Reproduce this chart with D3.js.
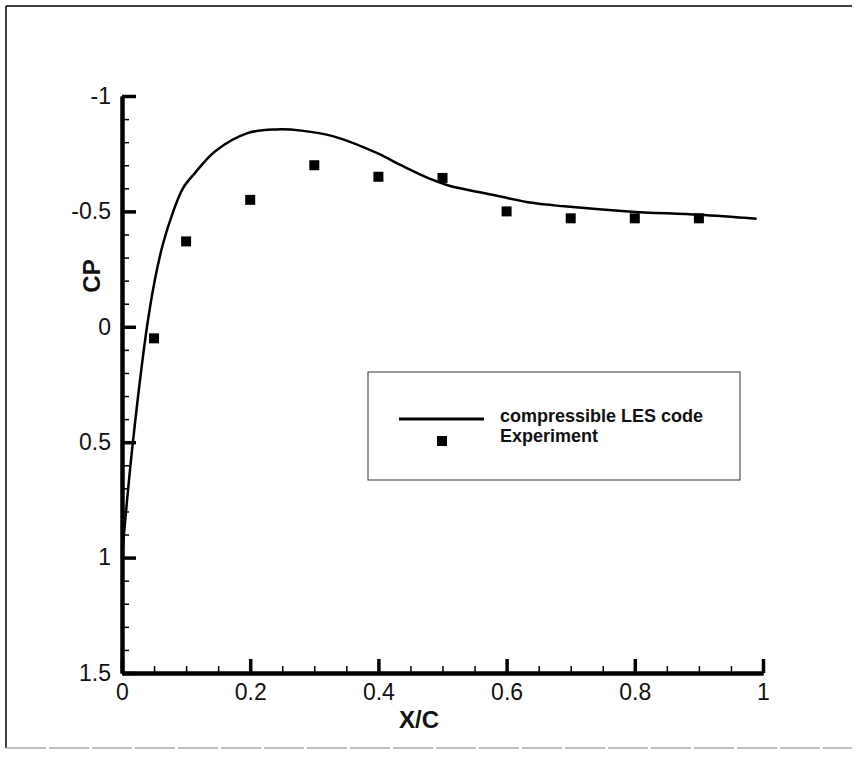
<!DOCTYPE html>
<html>

<head>
	<meta charset="utf-8">
	<title>Cp distribution</title>
	<style>
		body {
			margin: 0;
			background: #fff;
		}
		svg {
			display: block;
			font-family: "Liberation Sans", Arial, sans-serif;
		}
		.axis path {
			stroke: #000;
			stroke-width: 4px;
		}
		.axis .tick line {
			stroke: #000;
		}
		.major .tick line {
			stroke-width: 3.5px;
		}
		.minor .tick line {
			stroke-width: 1.5px;
		}
		.axis text {
			font-size: 23px;
			fill: #111;
		}
		.title {
			font-weight: bold;
			font-size: 24px;
			fill: #111;
		}
		.legend text {
			font-weight: bold;
			font-size: 18px;
			fill: #111;
		}
	</style>
</head>

<body>

	<div id="graph"></div>

	<script src="https://cdnjs.cloudflare.com/ajax/libs/d3/7.8.5/d3.min.js"></script>

	<script type="text/javascript">

		// LES curve, x/c vs Cp
		var lesX = [0, 0.003, 0.017, 0.039, 0.051, 0.064, 0.080, 0.095, 0.114, 0.145, 0.197, 0.240, 0.280, 0.330, 0.400, 0.435, 0.477, 0.512, 0.564, 0.640, 0.690, 0.790, 0.900, 0.990];
		var lesCp = [1.0, 0.90, 0.50, 0.0, -0.20, -0.36, -0.50, -0.60, -0.667, -0.76, -0.84, -0.855, -0.85, -0.825, -0.75, -0.70, -0.645, -0.61, -0.58, -0.537, -0.522, -0.50, -0.485, -0.468];

		// experiment points
		var expX = [0.05, 0.1, 0.2, 0.3, 0.4, 0.5, 0.6, 0.7, 0.8, 0.9];
		var expCp = [0.05, -0.37, -0.55, -0.70, -0.65, -0.645, -0.50, -0.47, -0.47, -0.47];

		var xTicks = [0, 0.2, 0.4, 0.6, 0.8, 1];
		var yTicks = [-1, -0.5, 0, 0.5, 1, 1.5];
		var legendNames = ["compressible LES code", "Experiment"];

		var width = 858;
		var height = 757;

		var svg = d3.select("#graph").append("svg")
			.attr("width", width)
			.attr("height", height);

		// frame around the figure
		svg.append("line")
			.attr("x1", 6).attr("y1", 6).attr("x2", 852).attr("y2", 6)
			.attr("stroke", "#000").attr("stroke-width", 1.5);
		svg.append("line")
			.attr("x1", 6).attr("y1", 6).attr("x2", 6).attr("y2", 748)
			.attr("stroke", "#000").attr("stroke-width", 1.5);
		svg.append("line")
			.attr("x1", 6).attr("y1", 748).attr("x2", 852).attr("y2", 748)
			.attr("stroke", "#aaa").attr("stroke-width", 1.5)
			.attr("stroke-dasharray", "40,3");

		var xScale = d3.scaleLinear().domain([0, 1]).range([122, 763]);
		var yScale = d3.scaleLinear().domain([-1, 1.5]).range([96, 673]);

		var fmt = function(d) { return String(d); };

		// minor ticks first, major on top
		svg.append("g")
			.attr("class", "axis minor")
			.attr("transform", "translate(0," + yScale(1.5) + ")")
			.call(d3.axisBottom(xScale).tickValues(d3.range(0, 1.001, 0.05)).tickSize(-7).tickSizeOuter(0).tickFormat(""));

		svg.append("g")
			.attr("class", "axis minor")
			.attr("transform", "translate(" + xScale(0) + ",0)")
			.call(d3.axisLeft(yScale).tickValues(d3.range(-1, 1.501, 0.1)).tickSize(-7).tickSizeOuter(0).tickFormat(""));

		svg.append("g")
			.attr("class", "axis major")
			.attr("transform", "translate(0," + yScale(1.5) + ")")
			.call(d3.axisBottom(xScale).tickValues(xTicks).tickSize(-14).tickSizeOuter(0).tickPadding(11).tickFormat(fmt));

		svg.append("g")
			.attr("class", "axis major")
			.attr("transform", "translate(" + xScale(0) + ",0)")
			.call(d3.axisLeft(yScale).tickValues(yTicks).tickSize(-14).tickSizeOuter(0).tickPadding(11).tickFormat(fmt));

		svg.selectAll(".axis").attr("font-family", null).attr("font-size", null);

		// axis titles
		svg.append("text")
			.attr("class", "title")
			.attr("text-anchor", "middle")
			.attr("x", 419)
			.attr("y", 728)
			.text("X/C");

		svg.append("text")
			.attr("class", "title")
			.attr("text-anchor", "middle")
			.attr("transform", "translate(100,276) rotate(-90)")
			.text("CP");

		// LES line
		var lesData = lesX.map(function(x, i) { return [x, lesCp[i]]; });
		var line = d3.line()
			.x(function(d) { return xScale(d[0]); })
			.y(function(d) { return yScale(d[1]); })
			.curve(d3.curveCatmullRom.alpha(0.5));

		svg.append("path")
			.datum(lesData)
			.attr("fill", "none")
			.attr("stroke", "#000")
			.attr("stroke-width", 2.5)
			.attr("d", line);

		// experiment squares
		var expData = expX.map(function(x, i) { return [x, expCp[i]]; });
		svg.append("g")
			.selectAll("rect")
			.data(expData)
			.enter()
			.append("rect")
			.attr("x", function(d) { return xScale(d[0]) - 5; })
			.attr("y", function(d) { return yScale(d[1]) - 5; })
			.attr("width", 10)
			.attr("height", 10)
			.attr("fill", "#000");

		// legend
		var legend = svg.append("g").attr("class", "legend");
		legend.append("rect")
			.attr("x", 368).attr("y", 372)
			.attr("width", 372).attr("height", 108)
			.attr("fill", "#fff")
			.attr("stroke", "#333")
			.attr("stroke-width", 1);

		legend.append("line")
			.attr("x1", 399).attr("x2", 484)
			.attr("y1", 419).attr("y2", 419)
			.attr("stroke", "#000")
			.attr("stroke-width", 3);

		legend.append("rect")
			.attr("x", 437).attr("y", 436)
			.attr("width", 10).attr("height", 10)
			.attr("fill", "#000");

		legend.selectAll("text.name")
			.data(legendNames)
			.enter()
			.append("text")
			.attr("class", "name")
			.attr("x", 500)
			.attr("y", function(d, i) { return 422 + i * 20; })
			.text(function(d) { return d; });

	</script>

</body>

</html>
